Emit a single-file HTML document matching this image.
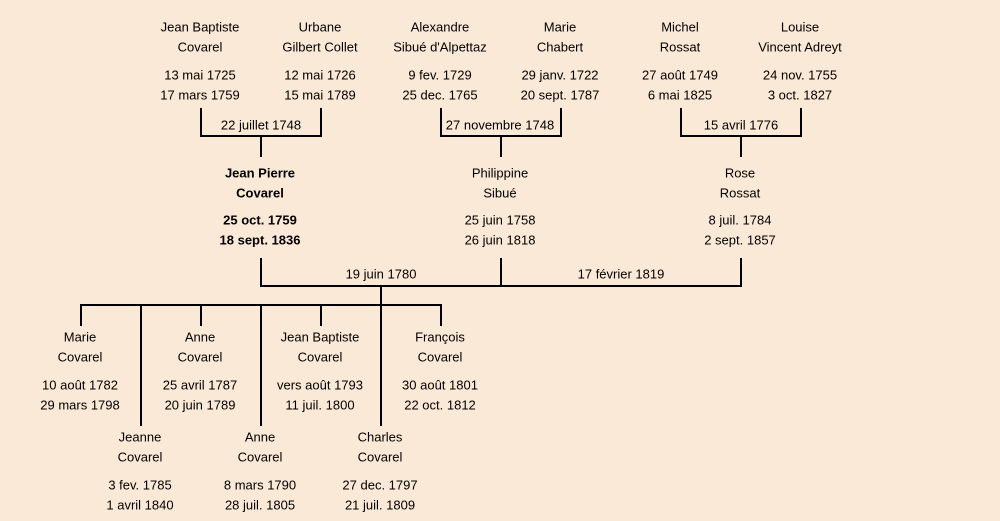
<!DOCTYPE html>
<html><head><meta charset="utf-8"><style>
html,body{margin:0;padding:0;background:#fbe9d7;}
svg{display:block}
text{font-family:"Liberation Sans",sans-serif;font-size:13px;fill:#000;text-anchor:middle;dominant-baseline:central}
.b{font-weight:bold}
</style></head><body>
<svg width="1000" height="521" viewBox="0 0 1000 521">
<rect width="1000" height="521" fill="#fbe9d7"/>
<g stroke="#000" stroke-width="2" fill="none">
<path d="M201,108V136H321V108M261,136V157"/>
<path d="M441,108V136H561V108M501,136V157"/>
<path d="M681,108V136H801V108M741,136V157"/>
<path d="M261,258V286H741V258M501,258V286M381,286V305"/>
<path d="M81,326V305H441V326M201,305V326M321,305V326M141,305V426M261,305V426M381,305V426"/>
</g>
<g>
<text x="200" y="27">Jean Baptiste</text><text x="200" y="47">Covarel</text><text x="200" y="75">13 mai 1725</text><text x="200" y="95">17 mars 1759</text>
<text x="320" y="27">Urbane</text><text x="320" y="47">Gilbert Collet</text><text x="320" y="75">12 mai 1726</text><text x="320" y="95">15 mai 1789</text>
<text x="440" y="27">Alexandre</text><text x="440" y="47">Sibué d'Alpettaz</text><text x="440" y="75">9 fev. 1729</text><text x="440" y="95">25 dec. 1765</text>
<text x="560" y="27">Marie</text><text x="560" y="47">Chabert</text><text x="560" y="75">29 janv. 1722</text><text x="560" y="95">20 sept. 1787</text>
<text x="680" y="27">Michel</text><text x="680" y="47">Rossat</text><text x="680" y="75">27 août 1749</text><text x="680" y="95">6 mai 1825</text>
<text x="800" y="27">Louise</text><text x="800" y="47">Vincent Adreyt</text><text x="800" y="75">24 nov. 1755</text><text x="800" y="95">3 oct. 1827</text>
<text x="261" y="125">22 juillet 1748</text>
<text x="500" y="125">27 novembre 1748</text>
<text x="741" y="125">15 avril 1776</text>
<text class="b" x="260" y="173">Jean Pierre</text><text class="b" x="260" y="193">Covarel</text><text class="b" x="260" y="220">25 oct. 1759</text><text class="b" x="260" y="240">18 sept. 1836</text>
<text x="500" y="173">Philippine</text><text x="500" y="193">Sibué</text><text x="500" y="220">25 juin 1758</text><text x="500" y="240">26 juin 1818</text>
<text x="740" y="173">Rose</text><text x="740" y="193">Rossat</text><text x="740" y="220">8 juil. 1784</text><text x="740" y="240">2 sept. 1857</text>
<text x="381" y="274">19 juin 1780</text>
<text x="621" y="274">17 février 1819</text>
<text x="80" y="337">Marie</text><text x="80" y="357">Covarel</text><text x="80" y="385">10 août 1782</text><text x="80" y="405">29 mars 1798</text>
<text x="200" y="337">Anne</text><text x="200" y="357">Covarel</text><text x="200" y="385">25 avril 1787</text><text x="200" y="405">20 juin 1789</text>
<text x="320" y="337">Jean Baptiste</text><text x="320" y="357">Covarel</text><text x="320" y="385">vers août 1793</text><text x="320" y="405">11 juil. 1800</text>
<text x="440" y="337">François</text><text x="440" y="357">Covarel</text><text x="440" y="385">30 août 1801</text><text x="440" y="405">22 oct. 1812</text>
<text x="140" y="437">Jeanne</text><text x="140" y="457">Covarel</text><text x="140" y="485">3 fev. 1785</text><text x="140" y="505">1 avril 1840</text>
<text x="260" y="437">Anne</text><text x="260" y="457">Covarel</text><text x="260" y="485">8 mars 1790</text><text x="260" y="505">28 juil. 1805</text>
<text x="380" y="437">Charles</text><text x="380" y="457">Covarel</text><text x="380" y="485">27 dec. 1797</text><text x="380" y="505">21 juil. 1809</text>
</g>
</svg>
</body></html>
